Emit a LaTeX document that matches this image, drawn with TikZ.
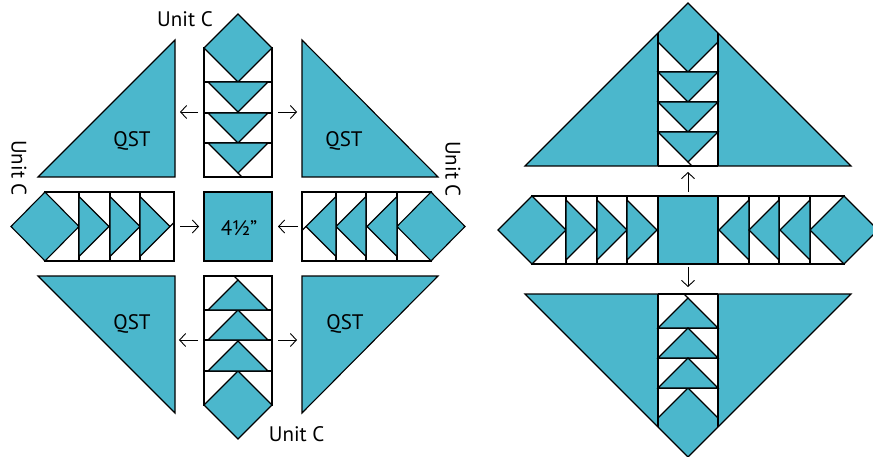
\documentclass[tikz,border=0pt]{standalone}
\usepackage{fontspec}
\setmainfont{PT Sans}
\usetikzlibrary{arrows.meta}
\definecolor{qteal}{RGB}{75,183,204}
\begin{document}
\begin{tikzpicture}[x=1pt,y=-1pt,
  pc/.style={fill=qteal,draw=black,line width=1.1pt,line join=miter},
  wp/.style={fill=white,draw=black,line width=1.1pt},
  ln/.style={draw=black,line width=1.1pt},
  arr/.style={-{Straight Barb[length=6pt,width=13pt]},line width=0.9pt},
  lbl/.style={font=\fontsize{21}{24}\selectfont,inner sep=0pt,anchor=base}]
\useasboundingbox (0,0) rectangle (873,457);

% ================= LEFT DIAGRAM =================
% QST triangles
\draw[pc] (38,177) -- (175,40) -- (175,177) -- cycle;
\draw[pc] (302,40) -- (302,177) -- (438,177) -- cycle;
\draw[pc] (38,276) -- (175,276) -- (175,413) -- cycle;
\draw[pc] (302,276) -- (438,276) -- (302,413) -- cycle;
\node[lbl] (q1) at (132,146.5) {QST};
\node[lbl] (q2) at (344,146.5) {QST};
\node[lbl] (q3) at (132,329) {QST};
\node[lbl] (q4) at (345,329) {QST};

% top Unit C (points down)
\draw[wp] (204,48) rectangle (272,177);
\draw[pc] (238,14) -- (272,48) -- (238,82) -- (204,48) -- cycle;
\draw[ln] (204,82) -- (272,82) (204,113) -- (272,113) (204,143) -- (272,143);
\draw[pc] (208,82) -- (268,82) -- (238,112) -- cycle;
\draw[pc] (208,113) -- (268,113) -- (238,143) -- cycle;
\draw[pc] (208,143) -- (268,143) -- (238,173) -- cycle;
\draw[ln] (238,173) -- (242,177);

% bottom Unit C (points up)
\draw[wp] (204,276) rectangle (272,405);
\draw[pc] (238,439) -- (272,405) -- (238,371) -- (204,405) -- cycle;
\draw[ln] (204,371) -- (272,371) (204,340) -- (272,340) (204,310) -- (272,310);
\draw[pc] (208,371) -- (268,371) -- (238,341) -- cycle;
\draw[pc] (208,340) -- (268,340) -- (238,310) -- cycle;
\draw[pc] (208,310) -- (268,310) -- (238,280) -- cycle;
\draw[ln] (238,280) -- (234,276);

% left Unit C (points right)
\draw[wp] (45,192) rectangle (174,261);
\draw[pc] (11,226.5) -- (45,192) -- (79,226.5) -- (45,261) -- cycle;
\draw[ln] (79,192) -- (79,261) (110,192) -- (110,261) (140,192) -- (140,261);
\draw[pc] (79,196.5) -- (79,256.5) -- (109,226.5) -- cycle;
\draw[pc] (110,196.5) -- (110,256.5) -- (140,226.5) -- cycle;
\draw[pc] (140,196.5) -- (140,256.5) -- (170,226.5) -- cycle;
\draw[ln] (170,226.5) -- (174,222.5);

% right Unit C (points left)
\draw[wp] (302,192) rectangle (431,261);
\draw[pc] (465,226.5) -- (431,192) -- (397,226.5) -- (431,261) -- cycle;
\draw[ln] (397,192) -- (397,261) (366,192) -- (366,261) (336,192) -- (336,261);
\draw[pc] (397,196.5) -- (397,256.5) -- (367,226.5) -- cycle;
\draw[pc] (366,196.5) -- (366,256.5) -- (336,226.5) -- cycle;
\draw[pc] (336,196.5) -- (336,256.5) -- (306,226.5) -- cycle;
\draw[ln] (306,226.5) -- (302,230.5);

% centre square
\draw[pc] (204,192) rectangle (272,261);
\node[lbl] (sq) at (239,236) {4½"};

% Unit C labels
\node[lbl] (u1) at (185,26.7) {Unit C};
\node[lbl] (u2) at (296.7,441.7) {Unit C};
\node[lbl,anchor=center,rotate=-90] (u3) at (19,168) {Unit C};
\node[lbl,anchor=center,rotate=-90] (u4) at (453,169) {Unit C};

% arrows
\coordinate (a1s) at (198,112); \coordinate (a1e) at (180,112);
\coordinate (a2s) at (278,112); \coordinate (a2e) at (297,112);
\coordinate (a3s) at (180,226.5); \coordinate (a3e) at (199,226.5);
\coordinate (a4s) at (298,226.5); \coordinate (a4e) at (278,226.5);
\coordinate (a5s) at (198,340); \coordinate (a5e) at (179,340);
\coordinate (a6s) at (278,340); \coordinate (a6e) at (297,340);
\draw[arr] (a1s) -- (a1e);
\draw[arr] (a2s) -- (a2e);
\draw[arr] (a3s) -- (a3e);
\draw[arr] (a4s) -- (a4e);
\draw[arr] (a5s) -- (a5e);
\draw[arr] (a6s) -- (a6e);

% ================= RIGHT DIAGRAM =================
% top big triangle with column
\draw[pc] (525,166) -- (688,3) -- (851,166) -- cycle;
\fill[white] (658,42) -- (688,72) -- (718,42) -- (718,166) -- (658,166) -- cycle;
\draw[ln] (658,42) -- (688,72) -- (718,42);
\draw[ln] (658,72) -- (718,72) (658,102) -- (718,102) (658,132) -- (718,132) (658,166) -- (718,166);
\draw[pc] (658,72) -- (718,72) -- (688,102) -- cycle;
\draw[pc] (658,102) -- (718,102) -- (688,132) -- cycle;
\draw[pc] (658,132) -- (718,132) -- (688,162) -- cycle;
\draw[ln] (688,162) -- (692,166);
\draw[ln] (658,33) -- (658,166) (718,33) -- (718,166);

% middle row
\draw[wp] (532,196) rectangle (658,264);
\draw[pc] (498,230) -- (532,196) -- (566,230) -- (532,264) -- cycle;
\draw[ln] (566,196) -- (566,264) (597,196) -- (597,264) (627,196) -- (627,264);
\draw[pc] (566,200) -- (566,260) -- (596,230) -- cycle;
\draw[pc] (597,200) -- (597,260) -- (627,230) -- cycle;
\draw[pc] (627,200) -- (627,260) -- (657,230) -- cycle;
\draw[wp] (718,196) rectangle (844,264);
\draw[pc] (878,230) -- (844,196) -- (810,230) -- (844,264) -- cycle;
\draw[ln] (749,196) -- (749,264) (779,196) -- (779,264) (810,196) -- (810,264);
\draw[pc] (749,200) -- (749,260) -- (719,230) -- cycle;
\draw[pc] (779,200) -- (779,260) -- (749,230) -- cycle;
\draw[pc] (810,200) -- (810,260) -- (780,230) -- cycle;
\draw[pc] (658,196) rectangle (718,264);

% bottom big triangle with column
\draw[pc] (525,294) -- (851,294) -- (688,457) -- cycle;
\fill[white] (658,294) -- (718,294) -- (718,418) -- (688,388) -- (658,418) -- cycle;
\draw[ln] (658,418) -- (688,388) -- (718,418);
\draw[ln] (658,294) -- (718,294) (658,328) -- (718,328) (658,358) -- (718,358) (658,388) -- (718,388);
\draw[pc] (658,328) -- (718,328) -- (688,298) -- cycle;
\draw[pc] (658,358) -- (718,358) -- (688,328) -- cycle;
\draw[pc] (658,388) -- (718,388) -- (688,358) -- cycle;
\draw[ln] (688,298) -- (684,294);
\draw[ln] (658,294) -- (658,427) (718,294) -- (718,427);

% arrows
\coordinate (b1s) at (688,192); \coordinate (b1e) at (688,172);
\coordinate (b2s) at (688,267); \coordinate (b2e) at (688,287);
\draw[arr] (b1s) -- (b1e);
\draw[arr] (b2s) -- (b2e);
\end{tikzpicture}
\end{document}
